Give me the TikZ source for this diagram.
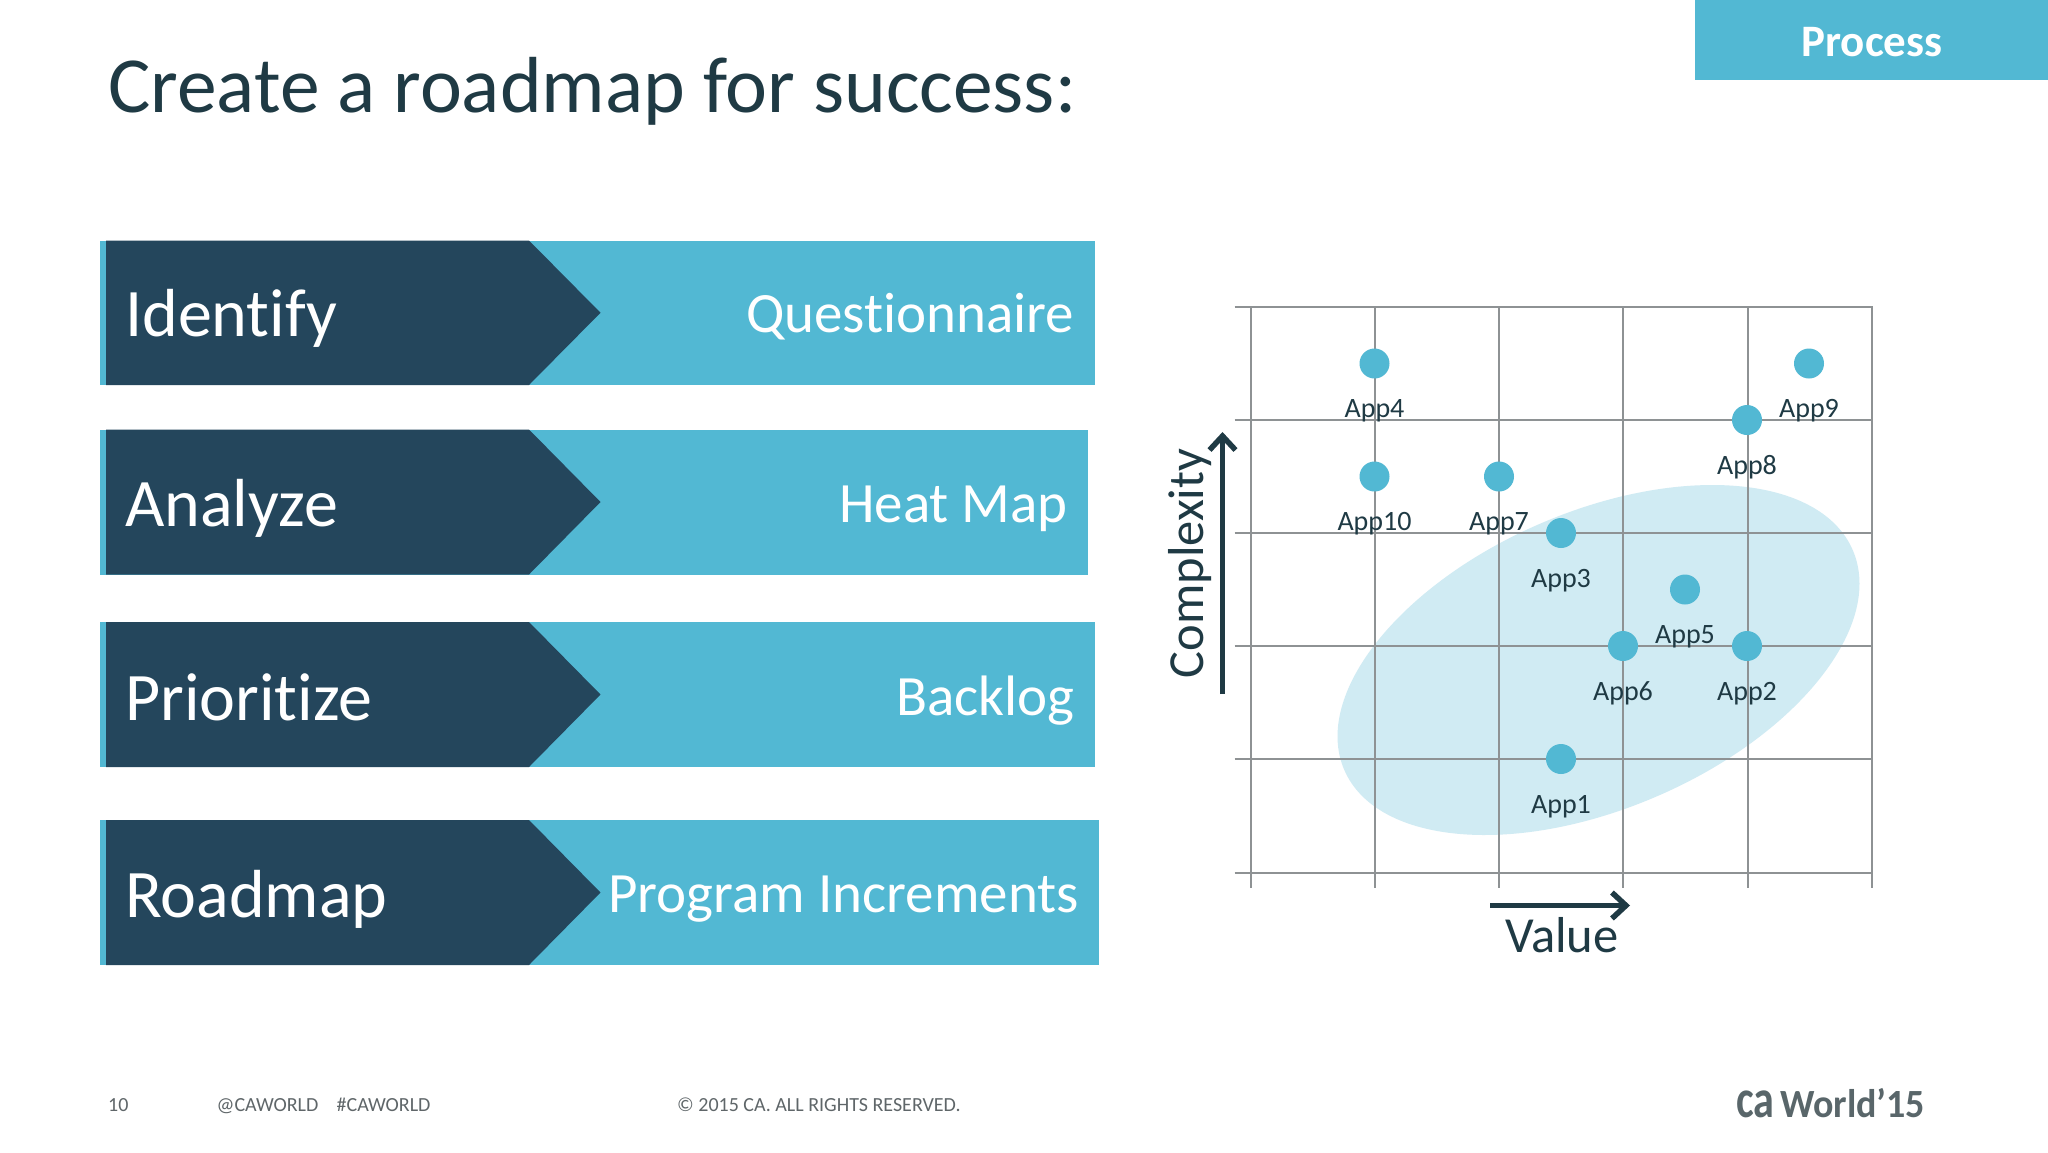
\documentclass[tikz,border=0pt]{standalone}
\usepackage{fontspec}
\setmainfont[RawFeature={-liga}]{Carlito}
\usetikzlibrary{arrows.meta}
\definecolor{lightb}{HTML}{52B8D3}
\definecolor{darkb}{HTML}{24465C}
\definecolor{halo}{HTML}{D0EBF3}
\definecolor{gridc}{HTML}{8E9294}
\definecolor{inkc}{HTML}{1F3A44}
\definecolor{footc}{HTML}{5F6669}
\definecolor{logoc}{HTML}{59666A}
\newcommand{\fsz}[1]{\fontsize{#1}{#1}\selectfont}
\tikzset{
  gridline/.style={draw=gridc,line width=2pt},
  dot/.style={circle,fill=lightb,inner sep=0pt,minimum size=30pt},
  applabel/.style={text=inkc,inner sep=0pt,anchor=base,font=\fsz{28}},
  leftlabel/.style={text=white,inner sep=0pt,anchor=base west,font=\fsz{68}},
  rightlabel/.style={text=white,inner sep=0pt,anchor=base east,font=\fsz{57}},
  footer/.style={text=footc,inner sep=0pt,anchor=base west,font=\fsz{20}},
  axisarrow/.style={draw=inkc,line width=5.5pt,-{Straight Barb[length=14pt,width=26pt,line width=5.5pt]}},
  axislabel/.style={text=inkc,inner sep=0pt,font=\fsz{50.5}}
}
\newcommand{\barshape}[3]{%
  \fill[lightb] (100,#1) rectangle (#3,#2);
  \fill[darkb] (106,#1) -- (529,#1) -- (600.5,{(#1+#2)/2}) -- (529,#2) -- (106,#2) -- cycle;
}
\begin{document}
\begin{tikzpicture}[x=1pt,y=-1pt]
\useasboundingbox (0,0) rectangle (2048,1152);
\fill[white] (0,0) rectangle (2048,1152);
% header
\node[text=inkc,inner sep=0pt,anchor=base west,font=\fsz{79.5}] (title) at (108,112) {Create a roadmap for success:};
\fill[lightb] (1695,0) rectangle (2048,80);
\node[text=white,inner sep=0pt,font=\bfseries\fsz{45}] (process) at (1872,42) {Process};
% bars
\barshape{240.5}{385}{1094.5}
\barshape{429.5}{574.5}{1087.5}
\barshape{622}{767}{1094.5}
\barshape{820}{965}{1098.5}
\node[leftlabel] (l1) at (125,336) {Identify};
\node[leftlabel] (l2) at (125,526) {Analyze};
\node[leftlabel] (l3) at (125,720) {Prioritize};
\node[leftlabel] (l4) at (125,917) {Roadmap};
\node[rightlabel] (r1) at (1074.5,332) {Questionnaire};
\node[rightlabel] (r2) at (1068,522) {Heat Map};
\node[rightlabel] (r3) at (1074.5,715) {Backlog};
\node[rightlabel] (r4) at (1079,912) {Program Increments};
% chart
\fill[halo,rotate around={23.4:(1598.5,660)}] (1598.5,660) ellipse [x radius=277,y radius=148.3];
\foreach \x in {1250.5,1374.5,1499,1623,1747.5,1871.5} \draw[gridline] (\x,307) -- (\x,888);
\foreach \y in {307,420,533,646,759,872.5} \draw[gridline] (1234.5,\y) -- (1872.5,\y);
\foreach \n/\t/\x/\y in {d4/App4/1374.5/363.5,d9/App9/1809/363.5,d8/App8/1747/420,d10/App10/1374.5/476.5,d7/App7/1499/476.5,d3/App3/1561/533,d5/App5/1685/589.5,d6/App6/1623/646,d2/App2/1747/646,d1/App1/1561/759}{
  \node[dot] (\n) at (\x,\y) {};
  \node[applabel] (\n t) at (\x,\y+54) {\t};
}
% axes
\coordinate (cA) at (1222.5,694);
\coordinate (cB) at (1222.5,432);
\draw[axisarrow] (cA) -- (cB);
\coordinate (vA) at (1490,905.5);
\coordinate (vB) at (1630,905.5);
\draw[axisarrow] (vA) -- (vB);
\node[axislabel,rotate=90,anchor=base] (complexity) at (1203,563.5) {Complexity};
\node[axislabel,anchor=base] (value) at (1562,952) {Value};
% footer
\node[footer] (f1) at (108,1111) {10};
\node[footer] (f2) at (216.5,1111) {@CAWORLD};
\node[footer] (f3) at (336.5,1111) {\#CAWORLD};
\node[footer] (f4) at (677,1111) {© 2015 CA. ALL RIGHTS RESERVED.};
\node[text=logoc,inner sep=0pt,anchor=base west,font=\bfseries\fsz{54}] (logoa) at (1736,1117) {\scalebox{.78}[1]{ca}};
\node[text=logoc,inner sep=0pt,anchor=base west,font=\bfseries\fsz{40}] (logob) at (1780,1117) {\scalebox{.95}[1]{World’15}};
\end{tikzpicture}
\end{document}
